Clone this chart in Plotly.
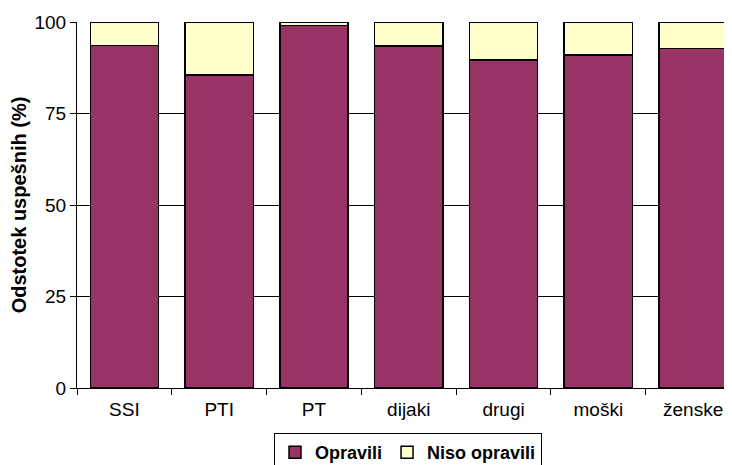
import plotly.graph_objects as go

categories = ["SSI", "PTI", "PT", "dijaki", "drugi", "moški", "ženske"]
opravili = [93.6, 85.5, 99.0, 93.4, 89.6, 91.0, 92.8]
niso_opravili = [round(100 - v, 1) for v in opravili]
y_ticks = [0, 25, 50, 75, 100]

fig = go.Figure()
fig.add_trace(go.Bar(x=categories, y=opravili, name="Opravili",
                     marker=dict(color="#993366", line=dict(color="black", width=1.5))))
fig.add_trace(go.Bar(x=categories, y=niso_opravili, name="Niso opravili",
                     marker=dict(color="#FFFFCC", line=dict(color="black", width=1.5))))

fig.update_layout(
    barmode="stack",
    bargap=0.28,
    width=724, height=457,
    margin=dict(l=69, r=0, t=14, b=76.5),
    paper_bgcolor="white", plot_bgcolor="white",
    font=dict(family="Arial, Liberation Sans, sans-serif", size=19, color="black"),
    showlegend=True,
    legend=dict(orientation="h", xref="container", yref="container",
                x=0.5525, xanchor="center", y=0.070, yanchor="top",
                bordercolor="black", borderwidth=1, bgcolor="white", traceorder="normal",
                font=dict(size=18, family="Arial, Liberation Sans, sans-serif", weight="bold"),
                itemwidth=30, tracegroupgap=0),
)
fig.update_xaxes(
    type="category", range=[-0.5, 6.41], tickson="boundaries",
    ticks="outside", ticklen=6, tickcolor="black",
    showline=True, linecolor="black", linewidth=1, showgrid=False,
    tickfont=dict(size=19), ticklabelstandoff=4,
)
fig.update_yaxes(
    range=[0, 100], tickvals=y_ticks, ticks="outside", ticklen=6, tickcolor="black",
    showline=True, linecolor="black", linewidth=1,
    showgrid=True, gridcolor="black", gridwidth=1, zeroline=False,
    tickfont=dict(size=19),
    title=dict(text="Odstotek uspešnih (%)", font=dict(size=20, weight="bold"), standoff=3),
)

fig.write_html("out.html")
